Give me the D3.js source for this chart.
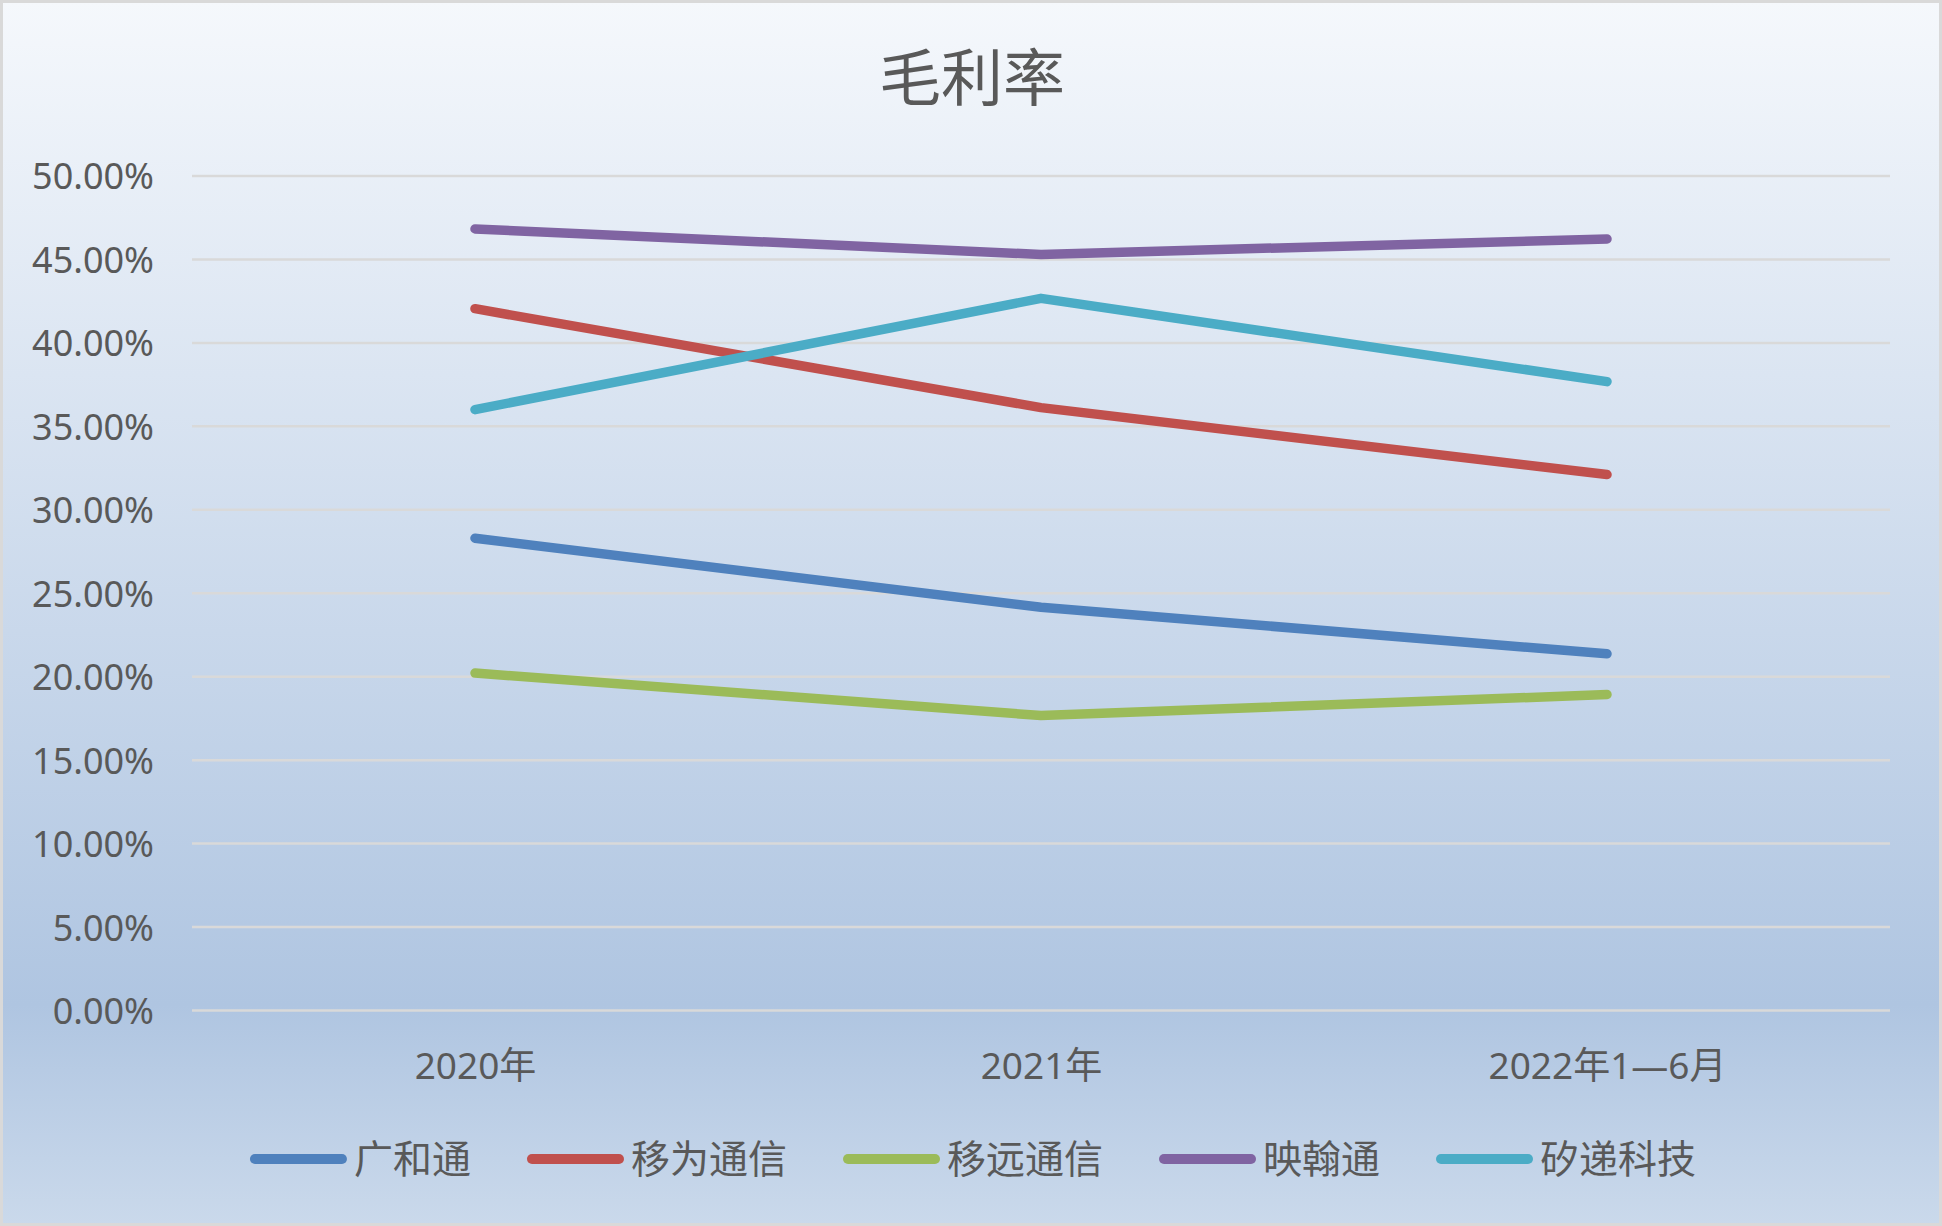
<!DOCTYPE html>
<html>
<head>
<meta charset="utf-8">
<script src="https://cdn.jsdelivr.net/npm/d3@7"></script>
<style>
html,body{margin:0;padding:0;background:#fff;}
svg{display:block;}
</style>
</head>
<body>
<svg id="chart" width="1942" height="1226"></svg>
<script>
const title = "毛利率";
const categories = ["2020年", "2021年", "2022年1—6月"];
const seriesNames = ["广和通", "移为通信", "移远通信", "映翰通", "矽递科技"];
const seriesColors = ["#4F81BD", "#C0504D", "#9BBB59", "#8064A2", "#4BACC6"];
const guanghetong = [0.2830, 0.2416, 0.2137];
const yiweitongxin = [0.4205, 0.3612, 0.3211];
const yiyuantongxin = [0.2022, 0.1767, 0.1893];
const yinghantong = [0.4683, 0.4530, 0.4623];
const xidikeji = [0.3600, 0.4267, 0.3768];
const yTicks = [0, 0.05, 0.10, 0.15, 0.20, 0.25, 0.30, 0.35, 0.40, 0.45, 0.50];

const seriesValues = [guanghetong, yiweitongxin, yiyuantongxin, yinghantong, xidikeji];
const series = seriesNames.map((n, i) => ({name: n, color: seriesColors[i], values: seriesValues[i]}));

const W = 1942, H = 1226;
const svg = d3.select("#chart");
const latin = "'Noto Sans','Noto Sans CJK SC',sans-serif";
const cjk = "'Noto Sans CJK SC','Noto Sans',sans-serif";

// background gradient
const defs = svg.append("defs");
const grad = defs.append("linearGradient").attr("id", "bg").attr("x1", 0).attr("y1", 0).attr("x2", 0).attr("y2", 1);
grad.append("stop").attr("offset", "0%").attr("stop-color", "#F5F8FC");
grad.append("stop").attr("offset", "82%").attr("stop-color", "#AFC5E1");
grad.append("stop").attr("offset", "100%").attr("stop-color", "#CAD9EB");
svg.append("rect").attr("x", 1.5).attr("y", 1.5).attr("width", W - 3).attr("height", H - 3)
  .attr("fill", "url(#bg)").attr("stroke", "#D9D9D9").attr("stroke-width", 3);

// title
svg.append("text").attr("x", 972).attr("y", 101).attr("text-anchor", "middle")
  .attr("font-family", cjk).attr("font-size", 62).attr("fill", "#595959").text(title);

const x = d3.scalePoint().domain(categories).range([192, 1890]).padding(0.5);
const y = d3.scaleLinear().domain([0, 0.5]).range([1010.5, 176]);

// gridlines
svg.append("g").selectAll("line").data(yTicks).join("line")
  .attr("x1", 192).attr("x2", 1890)
  .attr("y1", d => y(d)).attr("y2", d => y(d))
  .attr("stroke", "#D9D9D9").attr("stroke-width", 2.5);

// y axis labels
const yAxis = d3.axisLeft(y).tickValues(yTicks).tickFormat(d3.format(".2%")).tickSize(0).tickPadding(0);
const gy = svg.append("g").attr("transform", "translate(154,0)").call(yAxis);
gy.select(".domain").remove();
gy.selectAll("text").attr("font-family", latin).attr("font-size", 36).attr("fill", "#595959")
  .attr("dy", "0.36em");

// x axis labels
const xAxis = d3.axisBottom(x).tickSize(0).tickPadding(0);
const gx = svg.append("g").attr("transform", "translate(0,1079)").call(xAxis);
gx.select(".domain").remove();
gx.selectAll("text").attr("font-family", latin).attr("font-size", 37).attr("fill", "#595959")
  .attr("dy", 0).attr("y", 0);

// lines
const line = d3.line().x((d, i) => x(categories[i])).y(d => y(d));
svg.append("g").selectAll("path").data(series).join("path")
  .attr("d", d => line(d.values))
  .attr("fill", "none").attr("stroke", d => d.color).attr("stroke-width", 9.5)
  .attr("stroke-linecap", "round").attr("stroke-linejoin", "round");

// legend
const lg = svg.append("g");
const items = lg.selectAll("g").data(series).join("g");
items.append("line").attr("x1", 5).attr("x2", 92).attr("y1", 0).attr("y2", 0)
  .attr("stroke", d => d.color).attr("stroke-width", 10).attr("stroke-linecap", "round");
items.append("text").attr("x", 104).attr("y", 14).attr("font-family", cjk).attr("font-size", 39)
  .attr("fill", "#595959").text(d => d.name);
let cx = 0;
const offsets = [];
items.each(function(d) {
  offsets.push(cx);
  const tw = d3.select(this).select("text").node().getComputedTextLength();
  cx += 104 + tw + 56;
});
const total = cx - 56;
const startX = 973 - total / 2;
items.attr("transform", (d, i) => `translate(${startX + offsets[i]},1159)`);
</script>
</body>
</html>
